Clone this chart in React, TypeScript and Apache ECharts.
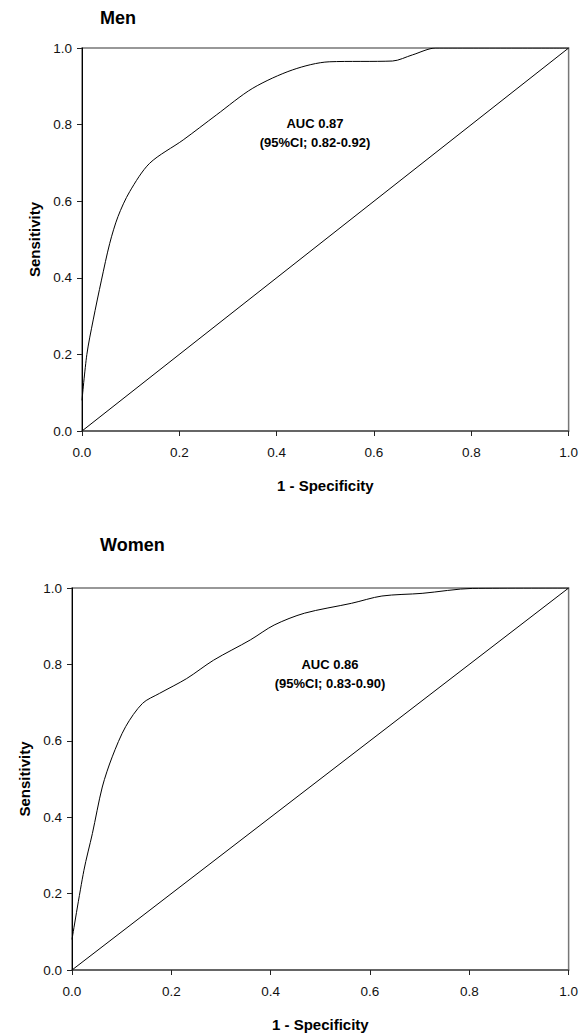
import React, { useEffect, useRef } from "react";
import * as echarts from "echarts";

const xTicks = [0, 0.2, 0.4, 0.6, 0.8, 1.0];
const yTicks = [0, 0.2, 0.4, 0.6, 0.8, 1.0];

const menFpr = [0, 0.01, 0.023, 0.04, 0.057, 0.074, 0.098, 0.139, 0.208, 0.276, 0.351, 0.433, 0.508, 0.638, 0.679, 0.727, 1.0];
const menTpr = [0.08, 0.2, 0.29, 0.394, 0.49, 0.56, 0.625, 0.699, 0.76, 0.825, 0.895, 0.943, 0.964, 0.966, 0.982, 1.0, 1.0];

const womenFpr = [0, 0.024, 0.041, 0.061, 0.081, 0.108, 0.142, 0.176, 0.231, 0.285, 0.359, 0.407, 0.468, 0.563, 0.624, 0.705, 0.807, 1.0];
const womenTpr = [0.08, 0.261, 0.357, 0.479, 0.558, 0.637, 0.698, 0.724, 0.763, 0.811, 0.864, 0.903, 0.934, 0.96, 0.979, 0.986, 0.999, 1.0];

const refX = [0, 1];
const refY = [0, 1];

const titles = ["Men", "Women"];
const aucTexts = ["AUC 0.87\n(95%CI; 0.82-0.92)", "AUC 0.86\n(95%CI; 0.83-0.90)"];
const xName = "1 - Specificity";
const yName = "Sensitivity";

const FONT = "'Liberation Sans', Arial, sans-serif";

function zip(xs: number[], ys: number[]) {
  return xs.map((x, i) => [x, ys[i]]);
}

export default function App() {
  const ref = useRef<HTMLDivElement>(null);
  useEffect(() => {
    if (!ref.current) return;
    const chart = echarts.init(ref.current, undefined, { renderer: "svg" });
    const grids = [
      { left: 82, top: 48, width: 488, height: 383 },
      { left: 72, top: 588, width: 498, height: 382 },
    ];
    const mkX = (gi: number) => ({
      type: "value",
      gridIndex: gi,
      min: 0,
      max: 1,
      interval: 0.2,
      name: xName,
      nameLocation: "middle",
      nameGap: 47,
      nameTextStyle: { fontFamily: FONT, fontSize: 15, fontWeight: "bold", color: "#000" },
      axisLine: { show: true, onZero: false, lineStyle: { color: "#555", width: 1.5 } },
      axisTick: { show: true, inside: false, length: 5, lineStyle: { color: "#222" } },
      axisLabel: {
        fontFamily: FONT,
        fontSize: 13.5,
        color: "#111",
        margin: 14,
        formatter: (v: number) => v.toFixed(1),
      },
      splitLine: { show: false },
    });
    const mkY = (gi: number) => ({
      type: "value",
      gridIndex: gi,
      min: 0,
      max: 1,
      interval: 0.2,
      name: yName,
      nameLocation: "middle",
      nameGap: 33,
      nameTextStyle: { fontFamily: FONT, fontSize: 15, fontWeight: "bold", color: "#000" },
      axisLine: { show: true, onZero: false, lineStyle: { color: "#000", width: 1 } },
      axisTick: { show: true, inside: false, length: 5, lineStyle: { color: "#222" } },
      axisLabel: {
        fontFamily: FONT,
        fontSize: 13.5,
        color: "#111",
        margin: 10,
        formatter: (v: number) => v.toFixed(1),
      },
      splitLine: { show: false },
    });
    const lineSeries = (gi: number, xs: number[], ys: number[], smooth: number) => ({
      type: "line",
      xAxisIndex: gi,
      yAxisIndex: gi,
      data: zip(xs, ys),
      showSymbol: false,
      symbol: "none",
      smooth,
      lineStyle: { color: "#000", width: 1 },
      z: 3,
    });
    chart.setOption({
      animation: false,
      backgroundColor: "#fff",
      grid: grids.map((g) => ({ ...g, show: true, borderColor: "#777", borderWidth: 1.5, backgroundColor: "transparent" })),
      xAxis: [mkX(0), mkX(1)],
      yAxis: [mkY(0), mkY(1)],
      series: [
        lineSeries(0, menFpr, menTpr, 0.3),
        lineSeries(0, refX, refY, 0),
        lineSeries(1, womenFpr, womenTpr, 0.3),
        lineSeries(1, refX, refY, 0),
      ],
      graphic: [
        {
          type: "text",
          x: 100,
          y: 18,
          style: { text: titles[0], fill: "#000", fontFamily: FONT, fontSize: 18, fontWeight: "bold", align: "left", verticalAlign: "middle" },
        },
        {
          type: "text",
          x: 100,
          y: 545,
          style: { text: titles[1], fill: "#000", fontFamily: FONT, fontSize: 18, fontWeight: "bold", align: "left", verticalAlign: "middle" },
        },
        {
          type: "text",
          x: 315,
          y: 132.5,
          style: { text: aucTexts[0], fill: "#000", fontFamily: FONT, fontSize: 13, fontWeight: "bold", align: "center", verticalAlign: "middle", lineHeight: 19 },
        },
        {
          type: "text",
          x: 330,
          y: 673.5,
          style: { text: aucTexts[1], fill: "#000", fontFamily: FONT, fontSize: 13, fontWeight: "bold", align: "center", verticalAlign: "middle", lineHeight: 19 },
        },
      ],
    });
    return () => chart.dispose();
  }, []);
  return (
    <div
      ref={ref}
      style={{ position: "absolute", left: 0, top: 0, width: 581, height: 1035 }}
    />
  );
}
